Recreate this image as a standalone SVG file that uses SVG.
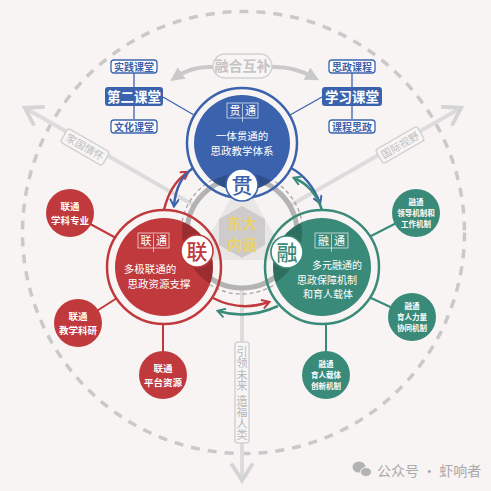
<svg xmlns="http://www.w3.org/2000/svg" width="491" height="491" viewBox="0 0 491 491">
<style>
text{font-family:"Noto Sans CJK SC","Liberation Sans",sans-serif;}
.w{fill:#fff;text-anchor:middle;}
.sat{font-size:9.5px;font-weight:bold;}
.sg{font-size:7.5px;font-weight:bold;}
.gl{stroke:#dcdcdc;stroke-width:4;fill:none;}
.lbl{fill:#f8f5f5;stroke:#d2d2d2;stroke-width:1.5;}
.lt{fill:#bdbdbd;font-size:10.5px;text-anchor:middle;}
.bt{fill:#fff;stroke:#3b63ad;stroke-width:1.3;}
.btt{fill:#3b63ad;font-size:10px;text-anchor:middle;font-weight:bold;}
.bl{stroke:#3b63ad;stroke-width:1.3;fill:none;}
.rl{stroke:#c0393c;stroke-width:2;fill:none;}
.gnl{stroke:#3a8a79;stroke-width:2;fill:none;}
.badge{fill:#fff;stroke-width:1.6;}
.bch{font-size:21px;font-weight:500;text-anchor:middle;}
.mt{font-size:10.5px;}
</style>
<defs>
<marker id="ab" viewBox="0 0 10 10" refX="8" refY="5" markerWidth="4" markerHeight="4" orient="auto"><path d="M1,0.5 L8.5,5 L1,9.5" fill="none" stroke="#3b63ad" stroke-width="2"/></marker>
<marker id="ar" viewBox="0 0 10 10" refX="8" refY="5" markerWidth="4" markerHeight="4" orient="auto"><path d="M1,0.5 L8.5,5 L1,9.5" fill="none" stroke="#c0393c" stroke-width="2"/></marker>
<marker id="ag" viewBox="0 0 10 10" refX="8" refY="5" markerWidth="4" markerHeight="4" orient="auto"><path d="M1,0.5 L8.5,5 L1,9.5" fill="none" stroke="#3a8a79" stroke-width="2"/></marker>
<marker id="agr" viewBox="0 0 10 10" refX="7" refY="5" markerWidth="6" markerHeight="6" orient="auto"><path d="M1,0.5 L8,5 L1,9.5" fill="none" stroke="#d4d4d4" stroke-width="1.6"/></marker>
<marker id="atop" viewBox="0 0 10 10" refX="5" refY="5" markerWidth="3.5" markerHeight="3.5" orient="auto"><path d="M0,0 L10,5 L0,10 Z" fill="#c9c9c9"/></marker>
<clipPath id="cd"><circle cx="242" cy="233" r="60"/></clipPath>
</defs>
<rect width="491" height="491" fill="#f9f4f4"/>
<circle cx="243.5" cy="232.5" r="221" fill="none" stroke="#c9c9c9" stroke-width="3.5" stroke-dasharray="9 8"/>

<g id="connectors">
<line class="gl" x1="242" y1="233" x2="27" y2="109" marker-end="url(#agr)"/>
<line class="gl" x1="242" y1="233" x2="459" y2="109" marker-end="url(#agr)"/>
<line class="gl" x1="242" y1="233" x2="242" y2="478" marker-end="url(#agr)"/>
<path d="M213,67 Q192,66 176,77" stroke="#c9c9c9" stroke-width="4" fill="none" marker-end="url(#atop)"/>
<path d="M272,67 Q293,66 313,77" stroke="#c9c9c9" stroke-width="4" fill="none" marker-end="url(#atop)"/>
<line class="bl" x1="163" y1="97" x2="194" y2="115"/>
<line class="bl" x1="134" y1="73" x2="134" y2="87"/>
<line class="bl" x1="134" y1="106" x2="134" y2="119"/>
<line class="bl" x1="322" y1="97" x2="290" y2="115"/>
<line class="bl" x1="352" y1="73" x2="352" y2="87"/>
<line class="bl" x1="352" y1="106" x2="352" y2="119"/>
<line class="rl" x1="70" y1="213" x2="116" y2="238"/>
<line class="rl" x1="78" y1="323" x2="117" y2="298"/>
<line class="rl" x1="163" y1="375" x2="163" y2="324"/>
<line class="gnl" x1="416" y1="213" x2="371" y2="236"/>
<line class="gnl" x1="412" y1="317" x2="371" y2="298"/>
<line class="gnl" x1="326" y1="375" x2="326" y2="324"/>
</g>

<g id="center">
<circle cx="242" cy="233" r="55" fill="#f6f3f3"/>
<polygon points="242,178 196,260 288,260" fill="#e9e6e6"/>
<circle cx="242" cy="233" r="55" fill="none" stroke="#b3b3b3" stroke-width="5"/>
<circle cx="242" cy="233" r="61" fill="none" stroke="#a5a5a5" stroke-width="1.3" stroke-dasharray="4 3"/>
<polygon points="242,206 265,219 265,245 242,258 219,245 219,219" fill="#cdcbcb"/>
<text x="242" y="229" fill="#ebd26e" font-size="15" font-weight="bold" text-anchor="middle">东大</text>
<text x="242" y="250" fill="#ebd26e" font-size="15" font-weight="bold" text-anchor="middle">内涵</text>
</g>

<g id="blue">
<circle cx="242" cy="143" r="48" fill="#3b63ad"/>
<circle cx="242" cy="143" r="55" fill="none" stroke="#3b63ad" stroke-width="2.5"/>
</g>
<g id="red">
<circle cx="164" cy="267" r="49" fill="#c0393c"/>
<circle cx="164" cy="267" r="57" fill="none" stroke="#c0393c" stroke-width="2.5"/>
</g>
<g id="green">
<circle cx="322" cy="267" r="49" fill="#3a8a79"/>
<circle cx="322" cy="267" r="57" fill="none" stroke="#3a8a79" stroke-width="2.5"/>
</g>
<g clip-path="url(#cd)" fill="#000" fill-opacity="0.2">
<circle cx="242" cy="143" r="48"/>
<circle cx="164" cy="267" r="49"/>
<circle cx="322" cy="267" r="49"/>
</g>

<g id="ring-arrows">
<path d="M164,210 Q170,184 188,172" stroke="#c0393c" stroke-width="2.5" fill="none" marker-end="url(#ar)"/>
<path d="M193,168 Q176,180 174,206" stroke="#3b63ad" stroke-width="2.5" fill="none" marker-end="url(#ab)"/>
<path d="M291,168 Q310,178 320,203" stroke="#3b63ad" stroke-width="2.5" fill="none" marker-end="url(#ab)"/>
<path d="M322,210 Q314,186 294,178" stroke="#3a8a79" stroke-width="2.5" fill="none" marker-end="url(#ag)"/>
<path d="M213,298 Q240,312 269,302" stroke="#c0393c" stroke-width="2.5" fill="none" marker-end="url(#ar)"/>
<path d="M278,306 Q248,320 218,311" stroke="#3a8a79" stroke-width="2.5" fill="none" marker-end="url(#ag)"/>
</g>

<g id="blue-text">
<rect x="227" y="103" width="31" height="15" fill="none" stroke="#fff" stroke-width="0.8" stroke-opacity="0.8"/>
<line x1="242.5" y1="104" x2="242.5" y2="122" stroke="#fff" stroke-width="0.6"/>
<text x="235" y="115" fill="#fff" font-size="11" text-anchor="middle">贯</text>
<text x="250.5" y="115" fill="#fff" font-size="11" text-anchor="middle">通</text>
<text class="w mt" x="242" y="139.5">一体贯通的</text>
<text class="w mt" x="242" y="154.5">思政教学体系</text>
</g>
<g id="red-text">
<rect x="138" y="233" width="31" height="15" fill="none" stroke="#fff" stroke-width="0.8" stroke-opacity="0.8"/>
<line x1="153.5" y1="234" x2="153.5" y2="252" stroke="#fff" stroke-width="0.6"/>
<text x="146" y="245" fill="#fff" font-size="11" text-anchor="middle">联</text>
<text x="161.5" y="245" fill="#fff" font-size="11" text-anchor="middle">通</text>
<text class="w mt" x="150" y="272.5">多极联通的</text>
<text class="w mt" x="159" y="287.5">思政资源支撑</text>
</g>
<g id="green-text">
<rect x="315" y="233" width="33" height="15" fill="none" stroke="#fff" stroke-width="0.8" stroke-opacity="0.8"/>
<line x1="331.5" y1="234" x2="331.5" y2="252" stroke="#fff" stroke-width="0.6"/>
<text x="323.5" y="245" fill="#fff" font-size="11" text-anchor="middle">融</text>
<text x="339.5" y="245" fill="#fff" font-size="11" text-anchor="middle">通</text>
<text class="w" x="337" y="269" font-size="10">多元融通的</text>
<text class="w" x="327" y="283.5" font-size="10">思政保障机制</text>
<text class="w" x="328" y="298" font-size="10">和育人载体</text>
</g>

<g id="badge-guan">
<circle class="badge" cx="242" cy="185" r="16" stroke="#3b63ad"/>
<text class="bch" x="242" y="192.5" fill="#3b63ad">贯</text>
</g>
<g id="badge-lian">
<circle class="badge" cx="197" cy="251" r="16" stroke="#c0393c"/>
<text class="bch" x="197" y="258.5" fill="#c0393c">联</text>
</g>
<g id="badge-rong">
<circle class="badge" cx="287" cy="252" r="16" stroke="#3a8a79"/>
<text class="bch" x="287" y="259.5" fill="#3a8a79">融</text>
</g>

<g id="node-dierketang">
<rect x="105" y="87" width="58" height="19" rx="3" fill="#3b63ad"/>
<text class="w" x="134" y="101.5" font-size="13.5" font-weight="bold">第二课堂</text>
</g>
<g id="node-shijian">
<rect class="bt" x="111" y="60" width="46" height="13" rx="3"/>
<text class="btt" x="134" y="70.5">实践课堂</text>
</g>
<g id="node-wenhua">
<rect class="bt" x="111" y="120" width="46" height="13" rx="3"/>
<text class="btt" x="134" y="130.5">文化课堂</text>
</g>
<g id="node-xuexi">
<rect x="322" y="87" width="60" height="19" rx="3" fill="#3b63ad"/>
<text class="w" x="352" y="101.5" font-size="13.5" font-weight="bold">学习课堂</text>
</g>
<g id="node-sizhengkecheng">
<rect class="bt" x="329" y="60" width="46" height="13" rx="3"/>
<text class="btt" x="352" y="70.5">思政课程</text>
</g>
<g id="node-kechengsizheng">
<rect class="bt" x="329" y="120" width="46" height="13" rx="3"/>
<text class="btt" x="352" y="130.5">课程思政</text>
</g>

<g id="sat-r1"><circle cx="70" cy="213" r="24" fill="#c0393c"/>
<text class="w sat" x="70" y="209.5">联通</text><text class="w sat" x="70" y="223.5">学科专业</text></g>
<g id="sat-r2"><circle cx="78" cy="323" r="24" fill="#c0393c"/>
<text class="w sat" x="78" y="319.5">联通</text><text class="w sat" x="78" y="333.5">教学科研</text></g>
<g id="sat-r3"><circle cx="163" cy="375" r="24" fill="#c0393c"/>
<text class="w sat" x="163" y="371.5">联通</text><text class="w sat" x="163" y="385.5">平台资源</text></g>
<g id="sat-g1"><circle cx="416" cy="213" r="24" fill="#3a8a79"/>
<text class="w sg" x="416" y="205">融通</text><text class="w sg" x="416" y="216">领导机制和</text><text class="w sg" x="416" y="227">工作机制</text></g>
<g id="sat-g2"><circle cx="412" cy="317" r="24" fill="#3a8a79"/>
<text class="w sg" x="412" y="309">融通</text><text class="w sg" x="412" y="320">育人力量</text><text class="w sg" x="412" y="331">协同机制</text></g>
<g id="sat-g3"><circle cx="326" cy="375" r="24" fill="#3a8a79"/>
<text class="w sg" x="326" y="367">融通</text><text class="w sg" x="326" y="378">育人载体</text><text class="w sg" x="326" y="389">创新机制</text></g>

<g id="label-ronghe">
<rect class="lbl" x="213" y="54" width="59" height="24" rx="12" stroke-width="2"/>
<text x="242.5" y="71" fill="#c4c4c4" font-size="14" text-anchor="middle" font-weight="bold">融合互补</text>
</g>
<g id="label-jiaguo" transform="translate(85,147) rotate(30)">
<rect class="lbl" x="-24" y="-8" width="48" height="16" rx="3"/>
<text class="lt" x="0" y="4">家国情怀</text>
</g>
<g id="label-guoji" transform="translate(400,145) rotate(-30)">
<rect class="lbl" x="-24" y="-8" width="48" height="16" rx="3"/>
<text class="lt" x="0" y="4">国际视野</text>
</g>
<g id="label-yinling">
<rect class="lbl" x="235" y="342" width="14" height="101" rx="3"/>
<text x="242" y="346" fill="#b8b8b8" font-size="11" writing-mode="vertical-rl" style="writing-mode:vertical-rl" letter-spacing="0.5">引领未来 造福人类</text>
</g>

<g id="watermark">
<ellipse cx="359" cy="467" rx="6.5" ry="5.5" fill="#b3b3b3"/>
<ellipse cx="366" cy="472" rx="5.5" ry="4.5" fill="#b3b3b3" stroke="#f9f4f4" stroke-width="1"/>
<text x="377" y="476" fill="#a9a9a9" font-size="14">公众号 · 虾响者</text>
</g>
</svg>
